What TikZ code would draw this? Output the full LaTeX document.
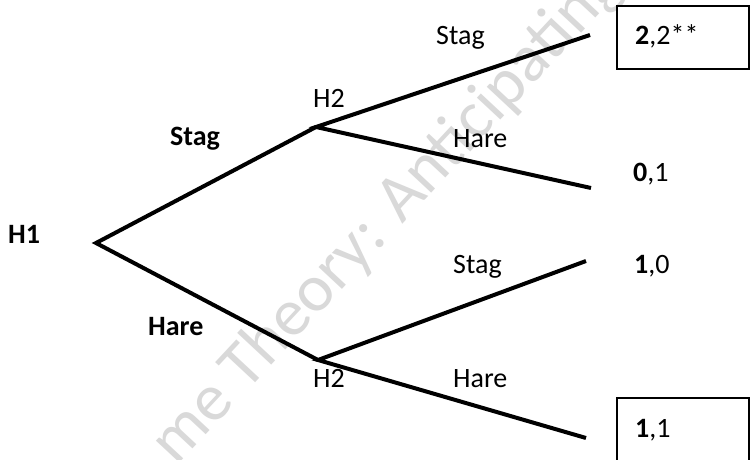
\documentclass[tikz,border=0pt]{standalone}
\usepackage{fontspec}
\setmainfont{Carlito}
\definecolor{wmgray}{HTML}{D9D9D9}
\tikzset{
  branch/.style={line width=4pt, line join=miter},
  lbl/.style={inner sep=0pt, anchor=base west, font=\fontsize{28}{34}\selectfont},
  blbl/.style={lbl, font=\fontsize{28}{34}\selectfont\bfseries},
  paybox/.style={draw, line width=1.6pt, fill=white, anchor=north west, inner sep=0pt, minimum width=132pt, minimum height=63pt},
  wmark/.style={inner sep=0pt, anchor=base west, rotate=47, text=wmgray, font=\fontsize{67}{80}\selectfont}
}
\begin{document}
\begin{tikzpicture}[x=1pt,y=-1pt]
\useasboundingbox (0,0) rectangle (750,460);
\clip (0,0) rectangle (750,460);
\fill[white] (0,0) rectangle (750,460);
% watermark
\node[wmark] (wm) at (176.5,467) {me Theory: Anticipating};
% tree points
\coordinate (h1) at (96,243);
\coordinate (h2a) at (316,127);
\coordinate (h2b) at (318,360);
\coordinate (l1) at (590,35);
\coordinate (l2) at (591,188);
\coordinate (l3) at (586,261);
\coordinate (l4) at (586,438);
% branches
\draw[branch] (h2a) -- (h1) -- (h2b);
\draw[branch] (l1) -- (h2a) -- (l2);
\draw[branch] (l3) -- (h2b) -- (l4);
% payoff boxes
\node[paybox] (box1) at (616,5) {};
\node[paybox] (box2) at (616,397) {};
% labels
\node[blbl] (t-h1) at (8,243) {H1};
\node[blbl] (t-stag1) at (170,145) {Stag};
\node[blbl] (t-hare1) at (148,335) {Hare};
\node[lbl] (t-h2a) at (313,107) {H2};
\node[lbl] (t-h2b) at (313,387) {H2};
\node[lbl] (t-stag2) at (436,45) {Stag};
\node[lbl] (t-hare2) at (453,147) {Hare};
\node[lbl] (t-stag3) at (453,273) {Stag};
\node[lbl] (t-hare3) at (453,387) {Hare};
% payoffs
\node[lbl] (p1) at (635,45) {\textbf{2},2**};
\node[lbl] (p2) at (633,181) {\textbf{0},1};
\node[lbl] (p3) at (634,273) {\textbf{1},0};
\node[lbl] (p4) at (635,437) {\textbf{1},1};
\end{tikzpicture}
\end{document}
